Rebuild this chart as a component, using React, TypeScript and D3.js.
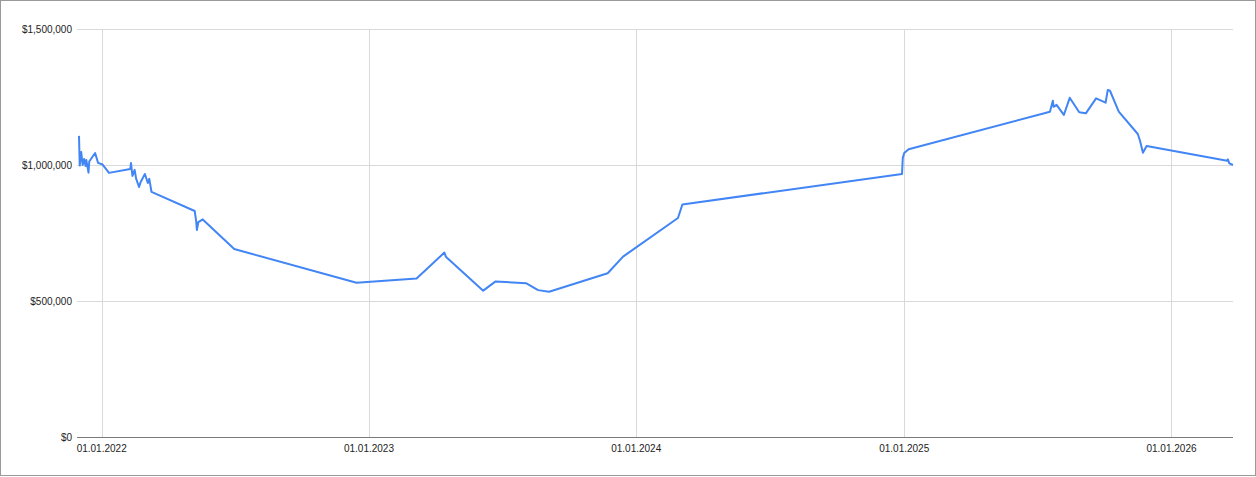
import { useEffect, useRef } from "react";
import * as d3 from "d3";

const dates: string[] = [
  "2021-12-01", "2021-12-02", "2021-12-04", "2021-12-06", "2021-12-08",
  "2021-12-10", "2021-12-11", "2021-12-14", "2021-12-15", "2021-12-23",
  "2021-12-27", "2022-01-02", "2022-01-11", "2022-02-09", "2022-02-10",
  "2022-02-12", "2022-02-15", "2022-02-17", "2022-02-21", "2022-02-23",
  "2022-03-01", "2022-03-05", "2022-03-07", "2022-03-10", "2022-05-08",
  "2022-05-10", "2022-05-11", "2022-05-13", "2022-05-19", "2022-07-01",
  "2022-12-15", "2023-03-07", "2023-04-14", "2023-04-16", "2023-06-06",
  "2023-06-23", "2023-08-04", "2023-08-20", "2023-09-04", "2023-11-23",
  "2023-12-14", "2024-02-27", "2024-03-04", "2024-12-29", "2024-12-30",
  "2025-01-01", "2025-01-07", "2025-07-19", "2025-07-23", "2025-07-24",
  "2025-07-28", "2025-08-07", "2025-08-15", "2025-08-28", "2025-09-06",
  "2025-09-20", "2025-10-03", "2025-10-06", "2025-10-09", "2025-10-21",
  "2025-11-16", "2025-11-19", "2025-11-23", "2025-11-28", "2026-03-18",
  "2026-03-19", "2026-03-21", "2026-03-26",
];

const values: number[] = [
  1107000, 998000, 1048000, 1000000, 1022000,
  996000, 1018000, 972000, 1013000, 1044000,
  1008000, 1002000, 971000, 985000, 1007000,
  960000, 982000, 950000, 919000, 936000,
  967000, 934000, 949000, 901000, 831000,
  794000, 761000, 790000, 800000, 691000,
  567000, 583000, 678000, 663000, 538000,
  572000, 565000, 540000, 534000, 602000,
  663000, 805000, 855000, 967000, 1026000,
  1044000, 1058000, 1196000, 1236000, 1214000,
  1221000, 1184000, 1247000, 1194000, 1190000,
  1245000, 1229000, 1276000, 1273000, 1196000,
  1114000, 1089000, 1045000, 1070000, 1016000,
  1021000, 1006000, 1000000,
];

const yTicks: number[] = [0, 500000, 1000000, 1500000];
const xTicks: string[] = ["2022-01-01", "2023-01-01", "2024-01-01", "2025-01-01", "2026-01-01"];

const W = 1256;
const H = 477;

export default function App() {
  const svgRef = useRef<SVGSVGElement>(null);

  useEffect(() => {
    const svg = d3.select(svgRef.current);
    svg.selectAll("*").remove();

    const parse = d3.utcParse("%Y-%m-%d");
    const data = dates.map((d, i) => ({ date: parse(d) as Date, value: values[i] }));

    const left = 79;
    const right = 1233;
    const top = 29;
    const bottom = 437;

    const x = d3
      .scaleUtc()
      .domain(d3.extent(data, (d) => d.date) as [Date, Date])
      .range([left, right]);
    const y = d3.scaleLinear().domain([0, 1500000]).range([bottom, top]);

    // frame
    svg
      .append("rect")
      .attr("x", 0.5)
      .attr("y", 0.5)
      .attr("width", W - 1)
      .attr("height", H - 2)
      .attr("fill", "#fff")
      .attr("stroke", "#9a9a9a");

    const fmtMoney = (v: number) => "$" + d3.format(",")(v);
    const fmtDate = d3.utcFormat("%d.%m.%Y");

    // horizontal grid
    svg
      .append("g")
      .selectAll("line")
      .data(yTicks.filter((t) => t > 0))
      .enter()
      .append("line")
      .attr("x1", left - 2)
      .attr("x2", right)
      .attr("y1", (d) => Math.round(y(d)) + 0.5)
      .attr("y2", (d) => Math.round(y(d)) + 0.5)
      .attr("stroke", "#d9d9d9");

    // vertical grid
    svg
      .append("g")
      .selectAll("line")
      .data(xTicks)
      .enter()
      .append("line")
      .attr("x1", (d) => Math.round(x(parse(d) as Date)) + 0.5)
      .attr("x2", (d) => Math.round(x(parse(d) as Date)) + 0.5)
      .attr("y1", top)
      .attr("y2", bottom)
      .attr("stroke", "#d9d9d9");

    // baseline
    svg
      .append("line")
      .attr("x1", left - 2)
      .attr("x2", right)
      .attr("y1", bottom + 0.5)
      .attr("y2", bottom + 0.5)
      .attr("stroke", "#7a7a7a");

    // y labels
    svg
      .append("g")
      .selectAll("text")
      .data(yTicks)
      .enter()
      .append("text")
      .attr("x", 72)
      .attr("y", (d) => y(d))
      .attr("dy", "0.35em")
      .attr("text-anchor", "end")
      .attr("font-family", "Liberation Sans, Arial, sans-serif")
      .attr("font-size", "10px")
      .attr("fill", "#222")
      .text((d) => fmtMoney(d));

    // x labels
    svg
      .append("g")
      .selectAll("text")
      .data(xTicks)
      .enter()
      .append("text")
      .attr("x", (d) => x(parse(d) as Date))
      .attr("y", 452)
      .attr("text-anchor", "middle")
      .attr("font-family", "Liberation Sans, Arial, sans-serif")
      .attr("font-size", "10px")
      .attr("fill", "#222")
      .text((d) => fmtDate(parse(d) as Date));

    const line = d3
      .line<{ date: Date; value: number }>()
      .x((d) => x(d.date))
      .y((d) => y(d.value));

    svg
      .append("path")
      .datum(data)
      .attr("d", line)
      .attr("fill", "none")
      .attr("stroke", "#4285f4")
      .attr("stroke-width", 2)
      .attr("stroke-linejoin", "round");
  }, []);

  return (
    <>
      <style>{"body{margin:0}"}</style>
      <svg ref={svgRef} width={W} height={H} style={{ display: "block" }}></svg>
    </>
  );
}
